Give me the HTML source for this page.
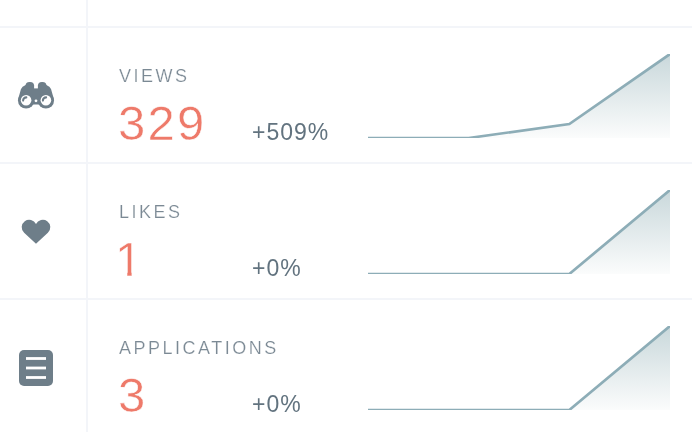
<!DOCTYPE html>
<html lang="en">
<head>
<meta charset="utf-8">
<title>Stats</title>
<style>
  html, body { margin:0; padding:0; background:#fff; }
  body { width:692px; height:432px; position:relative; overflow:hidden;
         font-family:"Liberation Sans", sans-serif; }
  .hl { position:absolute; left:0; width:692px; height:2px; background:#f3f5f9; }
  .vl { position:absolute; left:86px; top:0; width:2px; height:432px; background:#f3f5f9; }
  .row { position:absolute; left:0; width:692px; height:136px; }
  .icon { position:absolute; left:0; top:0; width:86px; height:136px; }
  .label { position:absolute; left:119px; top:37px; font-size:18px; line-height:22px;
           letter-spacing:2.5px; color:#7b8994; -webkit-text-stroke:0.2px #fff; white-space:nowrap; }
  .num { position:absolute; left:118px; top:67px; font-size:49px; line-height:56px;
         letter-spacing:2.2px; color:#ee7a6a; -webkit-text-stroke:0.5px #fff; white-space:nowrap; }
  .num.one { left:115px; clip-path:polygon(0 0, 16.6px 0, 16.6px 100%, 12.3px 100%, 12.3px 40.7px, 0 40.7px); }
  .pct { position:absolute; left:252px; top:90px; font-size:23px; line-height:28px;
         letter-spacing:1px; color:#62737f; white-space:nowrap; }
  .icon path, .icon circle, .icon rect, .icon polygon { fill:#6e7e89; }
  .icon .w { fill:#fff; }
  .chart { position:absolute; left:368px; top:26px; width:302px; height:84px; overflow:hidden; }
</style>
</head>
<body>
<svg width="0" height="0" style="position:absolute">
  <defs>
    <linearGradient id="g" x1="0" y1="0" x2="0" y2="1">
      <stop offset="0" stop-color="#c9d8db"/>
      <stop offset="1" stop-color="#fbfcfc"/>
    </linearGradient>
  </defs>
</svg>
<div class="hl" style="top:26px"></div>
<div class="hl" style="top:162px"></div>
<div class="hl" style="top:298px"></div>
<div class="vl"></div>

<div class="row" style="top:28px">
  <svg class="icon" viewBox="0 28 86 136">
    <rect x="25.5" y="82" width="8.6" height="10" rx="4"/>
    <rect x="37.9" y="82" width="8.6" height="10" rx="4"/>
    <path d="M25.6,85 Q22,86.4 21,89 L18,99.5 L26,104.4 L46,104.4 L54,99.5 L51,89 Q50,86.4 46.4,85 Z"/>
    <circle cx="26.1" cy="100.4" r="8.15"/>
    <circle cx="45.9" cy="100.4" r="8.15"/>
    <rect class="w" x="34.1" y="81" width="3.8" height="7.4"/>
    <circle class="w" cx="26.1" cy="100.2" r="5.3"/>
    <circle class="w" cx="45.9" cy="100.2" r="5.3"/>
    <circle class="w" cx="36" cy="100.8" r="1.4"/>
    <path d="M23.1,100.6 A3.2,3.2 0 0 1 26.3,97.4" style="fill:none;stroke:#6e7e89;stroke-width:2.1;stroke-linecap:round"/>
    <path d="M42.9,100.6 A3.2,3.2 0 0 1 46.1,97.4" style="fill:none;stroke:#6e7e89;stroke-width:2.1;stroke-linecap:round"/>
  </svg>
  <div class="label">VIEWS</div>
  <div class="num">329</div>
  <div class="pct">+509%</div>
  <svg class="chart" viewBox="0 0 302 84">
    <polygon points="0,84 0,84 100.67,84 201.33,70 302,0 302,84" fill="url(#g)"/>
    <polyline points="0,84 100.67,84 201.33,70 302,0" fill="none" stroke="#8dadb7" stroke-width="2.7"/>
  </svg>
</div>

<div class="row" style="top:164px">
  <svg class="icon" viewBox="0 164 86 136">
    <path d="M36,243.7 L24.13,232.73 A7.5,7.5 0 1 1 36,224.04 A7.5,7.5 0 1 1 47.87,232.73 Z"/>
  </svg>
  <div class="label">LIKES</div>
  <div class="num one">1</div>
  <div class="pct">+0%</div>
  <svg class="chart" viewBox="0 0 302 84">
    <polygon points="0,84 0,84 201.33,84 302,0 302,84" fill="url(#g)"/>
    <polyline points="0,84 201.33,84 302,0" fill="none" stroke="#8dadb7" stroke-width="2.7"/>
  </svg>
</div>

<div class="row" style="top:300px">
  <svg class="icon" viewBox="0 300 86 136">
    <rect x="19" y="350" width="34" height="36" rx="5"/>
    <rect class="w" x="26" y="357.1" width="20" height="2.8"/>
    <rect class="w" x="26" y="366.6" width="20" height="2.8"/>
    <rect class="w" x="26" y="376.1" width="20" height="2.8"/>
  </svg>
  <div class="label">APPLICATIONS</div>
  <div class="num">3</div>
  <div class="pct">+0%</div>
  <svg class="chart" viewBox="0 0 302 84">
    <polygon points="0,84 0,84 201.33,84 302,0 302,84" fill="url(#g)"/>
    <polyline points="0,84 201.33,84 302,0" fill="none" stroke="#8dadb7" stroke-width="2.7"/>
  </svg>
</div>
</body>
</html>
